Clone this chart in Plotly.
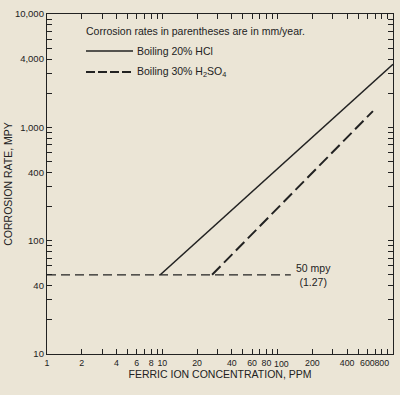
import plotly.graph_objects as go

# ---- data ----
hcl_ppm = [9.6, 1000]
hcl_mpy = [50, 3600]
h2so4_ppm = [27, 670]
h2so4_mpy = [50, 1390]
base_ppm = [1, 130]
base_mpy = [50, 50]

x_ticks = [1, 2, 3, 4, 5, 6, 7, 8, 9, 10, 20, 30, 40, 50, 60, 70, 80, 90,
           100, 200, 300, 400, 500, 600, 700, 800, 900, 1000]
x_labels = ["1", "2", "", "4", "", "6", "", "8", "", "10", "20", "", "40", "", "60", "", "80", "",
            "", "200", "", "400", "", "600", "", "800", "", ""]
x_label_100 = "100"
y_ticks = [10, 20, 30, 40, 50, 60, 70, 80, 90, 100, 200, 300, 400, 500, 600, 700, 800, 900,
           1000, 2000, 3000, 4000, 5000, 6000, 7000, 8000, 9000, 10000]
y_labels = ["10", "", "", "40", "", "", "", "", "", "100", "", "", "400", "", "", "", "", "",
            "1,000", "", "", "4,000", "", "", "", "", "", "10,000"]

INK = "#222222"
BG = "#ebe5d6"
FONT = "Liberation Sans, Arial, sans-serif"

fig = go.Figure()
fig.add_trace(go.Scatter(x=base_ppm, y=base_mpy, mode="lines",
                         line=dict(color=INK, width=1.2, dash="9px,5px"), showlegend=False))
fig.add_trace(go.Scatter(x=hcl_ppm, y=hcl_mpy, mode="lines",
                         line=dict(color=INK, width=1.6), showlegend=False))
fig.add_trace(go.Scatter(x=h2so4_ppm, y=h2so4_mpy, mode="lines",
                         line=dict(color=INK, width=2, dash="12px,5px"), showlegend=False))

L, R, T, B = 47, 7, 14, 41
PW, PH = 400 - L - R, 395 - T - B


def px(xp):
    return (xp - L) / PW


def py(yp):
    return (395 - B - yp) / PH


# legend (manual)
fig.add_shape(type="line", xref="paper", yref="paper", x0=px(86), x1=px(133), y0=py(51), y1=py(51),
              line=dict(color=INK, width=1.6))
fig.add_shape(type="line", xref="paper", yref="paper", x0=px(86), x1=px(131), y0=py(72), y1=py(72),
              line=dict(color=INK, width=2, dash="9px,3px"))
ann = [
    dict(x=px(84), y=py(31), text="Corrosion rates in parentheses are in mm/year.", xanchor="left"),
    dict(x=px(135), y=py(51), text="Boiling 20% HCl", xanchor="left"),
    dict(x=px(135), y=py(72), text="Boiling 30% H<sub>2</sub>SO<sub>4</sub>", xanchor="left"),
]
for a in ann:
    fig.add_annotation(xref="paper", yref="paper", yanchor="middle", showarrow=False,
                       font=dict(size=10.5, color=INK, family=FONT), **a)

fig.add_annotation(x=2.31, y=1.699, xref="x", yref="y", text="50 mpy<br>(1.27)", showarrow=False,
                   align="center", yanchor="middle", font=dict(size=10.5, color=INK, family=FONT))

# the "100" tick label sits slightly right of its tick in the original
fig.add_annotation(x=2, y=0, xref="x", yref="paper", text=x_label_100, showarrow=False,
                   xanchor="center", yanchor="top", xshift=4, yshift=-4, borderpad=0,
                   font=dict(size=8.8, color=INK, family=FONT))

axis_common = dict(type="log", showgrid=False, zeroline=False, showline=True, linecolor=INK,
                   linewidth=1.3, mirror="allticks", ticks="inside", ticklen=5, tickwidth=1,
                   tickcolor=INK, tickmode="array", automargin=False, tickangle=0)

fig.update_xaxes(range=[0, 3], tickvals=x_ticks, ticktext=x_labels,
                 tickfont=dict(size=8.8, color=INK, family=FONT),
                 title=dict(text="FERRIC ION CONCENTRATION, PPM", standoff=3,
                            font=dict(size=10.5, color=INK, family=FONT)), **axis_common)
fig.update_yaxes(range=[1, 4], tickvals=y_ticks, ticktext=y_labels,
                 tickfont=dict(size=9.5, color=INK, family=FONT),
                 title=dict(text="CORROSION RATE, MPY", standoff=0,
                            font=dict(size=10.5, color=INK, family=FONT)), **axis_common)

fig.update_layout(width=400, height=395, margin=dict(l=L, r=R, t=T, b=B),
                  paper_bgcolor=BG, plot_bgcolor=BG, showlegend=False)

fig.write_html("out.html", config={"displayModeBar": False},
               post_script="document.body.style.margin='0';document.body.style.background='%s';" % BG)
